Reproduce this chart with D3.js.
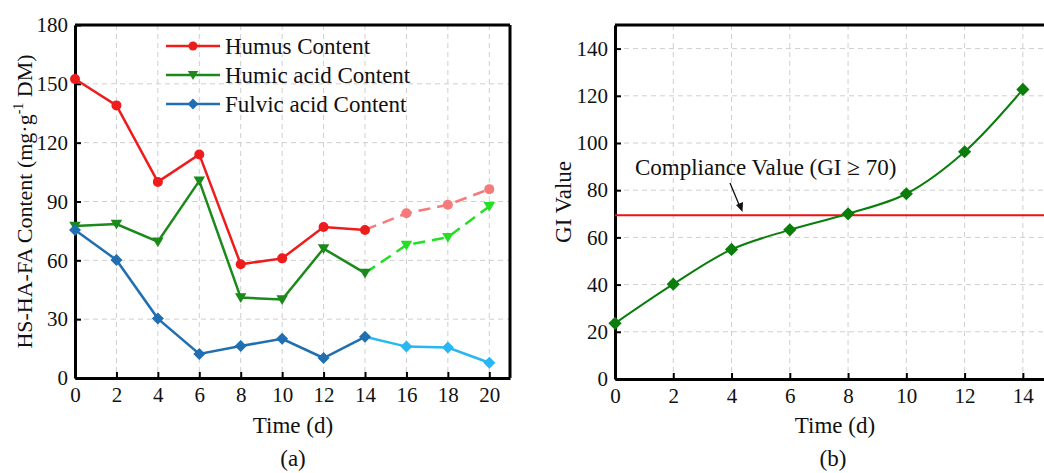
<!DOCTYPE html>
<html>
<head>
<meta charset="utf-8">
<script src="https://cdn.jsdelivr.net/npm/d3@7"></script>
<style>
  body { margin: 0; background: #fff; }
  svg { display: block; font-family: "Liberation Serif", "Times New Roman", serif; }
  .grid line { stroke: #cfcfcf; stroke-dasharray: 5,4; stroke-width: 1; }
  .axis path, .axis line { stroke: #000; }
  .axis text { font-size: 21px; fill: #111; font-family: "Liberation Serif", serif; }
</style>
</head>
<body>
<div id="chart"></div>
<script>
// ---- data: panel (a) ----
const days = [0, 2, 4, 6, 8, 10, 12, 14, 16, 18, 20];
const humus = [152.5, 139, 100, 114, 58, 61, 77, 75.5, 84, 88.3, 96.3];
const humicAcid = [77.5, 78.5, 69.5, 100.5, 41, 40, 66, 53.5, 67.8, 71.8, 87.5];
const fulvicAcid = [75.5, 60.2, 30.3, 12.3, 16.3, 20, 10.2, 21, 16, 15.5, 7.8];
const seriesNames = ["Humus Content", "Humic acid Content", "Fulvic acid Content"];
const yTicksA = [0, 30, 60, 90, 120, 150, 180];
const xTicksA = [0, 2, 4, 6, 8, 10, 12, 14, 16, 18, 20];

// ---- data: panel (b) ----
const giDays = [0, 2, 4, 6, 8, 10, 12, 14];
const giValue = [23.6, 40.2, 54.9, 63.2, 70, 78.5, 96.3, 122.7];
const compliance = 69.4;
const yTicksB = [0, 20, 40, 60, 80, 100, 120, 140];
const xTicksB = [0, 2, 4, 6, 8, 10, 12, 14];

const width = 1044, height = 473;
const svg = d3.select("#chart").append("svg")
  .attr("width", width).attr("height", height);

// -------- helper: frame + grid + axes --------
function drawFrame(g, x, y, xTicks, yTicks, w, h) {
  g.append("g").attr("class", "grid")
    .selectAll("line.v").data(xTicks.filter(d => d > 0)).enter().append("line")
    .attr("x1", d => x(d)).attr("x2", d => x(d)).attr("y1", 0).attr("y2", h);
  g.append("g").attr("class", "grid")
    .selectAll("line.h").data(yTicks.filter(d => d > 0)).enter().append("line")
    .attr("x1", 0).attr("x2", w).attr("y1", d => y(d)).attr("y2", d => y(d));

  g.append("g").attr("class", "axis")
    .attr("transform", `translate(0,${h})`)
    .call(d3.axisBottom(x).tickValues(xTicks).tickSizeInner(-6).tickSizeOuter(0).tickPadding(9))
    .call(a => a.select(".domain").attr("stroke-width", 3))
    .call(a => a.selectAll(".tick line").attr("stroke-width", 2));
  g.append("g").attr("class", "axis")
    .call(d3.axisLeft(y).tickValues(yTicks).tickSizeInner(-6).tickSizeOuter(0).tickPadding(7))
    .call(a => a.select(".domain").attr("stroke-width", 3))
    .call(a => a.selectAll(".tick line").attr("stroke-width", 2));

  // top & right border
  g.append("line").attr("x1", 0).attr("x2", w).attr("y1", 0).attr("y2", 0)
    .attr("stroke", "#000").attr("stroke-width", 3);
  g.append("line").attr("x1", w).attr("x2", w).attr("y1", 0).attr("y2", h)
    .attr("stroke", "#000").attr("stroke-width", 3);
}

// ================= panel (a) =================
const mA = { left: 75, top: 25, w: 435, h: 353 };
const gA = svg.append("g").attr("transform", `translate(${mA.left},${mA.top})`);
const xA = d3.scaleLinear().domain([0, 21]).range([0, mA.w]);
const yA = d3.scaleLinear().domain([0, 180]).range([mA.h, 0]);

drawFrame(gA, xA, yA, xTicksA, yTicksA, mA.w, mA.h);

const seriesA = [
  { name: seriesNames[0], values: humus, color: "#ee1c1c", light: "#f77a7a", symbol: "circle", dashed: true },
  { name: seriesNames[1], values: humicAcid, color: "#1b8a1b", light: "#22e022", symbol: "triangle", dashed: true },
  { name: seriesNames[2], values: fulvicAcid, color: "#1f6fb2", light: "#27b7f2", symbol: "diamond", dashed: false }
];

const lineA = d3.line().x(d => xA(d[0])).y(d => yA(d[1]));

function marker(sel, symbol, color, size) {
  if (symbol === "circle") {
    sel.append("circle").attr("r", size).attr("fill", color);
  } else if (symbol === "triangle") {
    const s = size * 1.15;
    sel.append("path").attr("d", `M${-s},${-s * 0.75}L${s},${-s * 0.75}L0,${s * 0.95}Z`).attr("fill", color);
  } else {
    const s = size * 1.2;
    sel.append("path").attr("d", `M0,${-s}L${s},0L0,${s}L${-s},0Z`).attr("fill", color);
  }
}

seriesA.forEach(s => {
  const pts = days.map((d, i) => [d, s.values[i]]);
  const solid = pts.filter(p => p[0] <= 14);
  const ext = pts.filter(p => p[0] >= 14);
  gA.append("path").datum(ext)
    .attr("d", lineA).attr("fill", "none")
    .attr("stroke", s.light).attr("stroke-width", 2.5)
    .attr("stroke-dasharray", s.dashed ? "12,7" : null);
  gA.append("path").datum(solid)
    .attr("d", lineA).attr("fill", "none")
    .attr("stroke", s.color).attr("stroke-width", 2.5);
  pts.forEach(p => {
    const c = p[0] > 14 ? s.light : s.color;
    gA.append("g").attr("transform", `translate(${xA(p[0])},${yA(p[1])})`)
      .call(sel => marker(sel, s.symbol, c, 5));
  });
});

// legend
const legend = svg.append("g").attr("transform", "translate(166,46)");
seriesA.forEach((s, i) => {
  const row = legend.append("g").attr("transform", `translate(0,${i * 29})`);
  row.append("line").attr("x1", 0).attr("x2", 54).attr("y1", 0).attr("y2", 0)
    .attr("stroke", s.color).attr("stroke-width", 2.5);
  row.append("g").attr("transform", "translate(27,0)").call(sel => marker(sel, s.symbol, s.color, 4.5));
  row.append("text").attr("x", 59).attr("y", 8).attr("font-size", 23).attr("fill", "#111").text(s.name);
});

// axis titles (a)
svg.append("text").attr("x", mA.left + 218).attr("y", 433)
  .attr("text-anchor", "middle").attr("font-size", 23).attr("fill", "#111").text("Time (d)");
svg.append("text").attr("transform", `translate(32,${mA.top + mA.h / 2}) rotate(-90)`)
  .attr("text-anchor", "middle").attr("font-size", 22).attr("fill", "#111")
  .html('HS-HA-FA Content (mg·g<tspan dy="-9" font-size="14">-1</tspan><tspan dy="9"> DM)</tspan>');
svg.append("text").attr("x", 293).attr("y", 466)
  .attr("text-anchor", "middle").attr("font-size", 23).attr("fill", "#111").text("(a)");

// ================= panel (b) =================
const mB = { left: 615, top: 25, w: 437, h: 354 };
const gB = svg.append("g").attr("transform", `translate(${mB.left},${mB.top})`);
const xB = d3.scaleLinear().domain([0, 15]).range([0, mB.w]);
const yB = d3.scaleLinear().domain([0, 150]).range([mB.h, 0]);

drawFrame(gB, xB, yB, xTicksB, yTicksB, mB.w, mB.h);

// compliance line
gB.append("line").attr("x1", 0).attr("x2", mB.w)
  .attr("y1", yB(compliance)).attr("y2", yB(compliance))
  .attr("stroke", "#f01010").attr("stroke-width", 2);

const giPts = giDays.map((d, i) => [d, giValue[i]]);
gB.append("path").datum(giPts)
  .attr("d", d3.line().x(d => xB(d[0])).y(d => yB(d[1])).curve(d3.curveCatmullRom.alpha(0.5)))
  .attr("fill", "none").attr("stroke", "#0b7d0b").attr("stroke-width", 2);
giPts.forEach(p => {
  gB.append("g").attr("transform", `translate(${xB(p[0])},${yB(p[1])})`)
    .call(sel => marker(sel, "diamond", "#0b7d0b", 5.5));
});

// annotation
gB.append("text").attr("x", 20).attr("y", 175 - mB.top)
  .attr("font-size", 23).attr("fill", "#111").text("Compliance Value (GI ≥ 70)");
gB.append("line").attr("x1", 730 - mB.left).attr("y1", 183 - mB.top)
  .attr("x2", 740 - mB.left).attr("y2", 207 - mB.top)
  .attr("stroke", "#111").attr("stroke-width", 1.3);
gB.append("path")
  .attr("d", d3.line()([[736 - mB.left, 205 - mB.top], [742.5 - mB.left, 212 - mB.top], [743 - mB.left, 202 - mB.top]]))
  .attr("fill", "#111");

// axis titles (b)
svg.append("text").attr("x", 835).attr("y", 433)
  .attr("text-anchor", "middle").attr("font-size", 23).attr("fill", "#111").text("Time (d)");
svg.append("text").attr("transform", `translate(571,${mB.top + mB.h / 2}) rotate(-90)`)
  .attr("text-anchor", "middle").attr("font-size", 23).attr("fill", "#111").text("GI Value");
svg.append("text").attr("x", 833).attr("y", 466)
  .attr("text-anchor", "middle").attr("font-size", 23).attr("fill", "#111").text("(b)");
</script>
</body>
</html>
